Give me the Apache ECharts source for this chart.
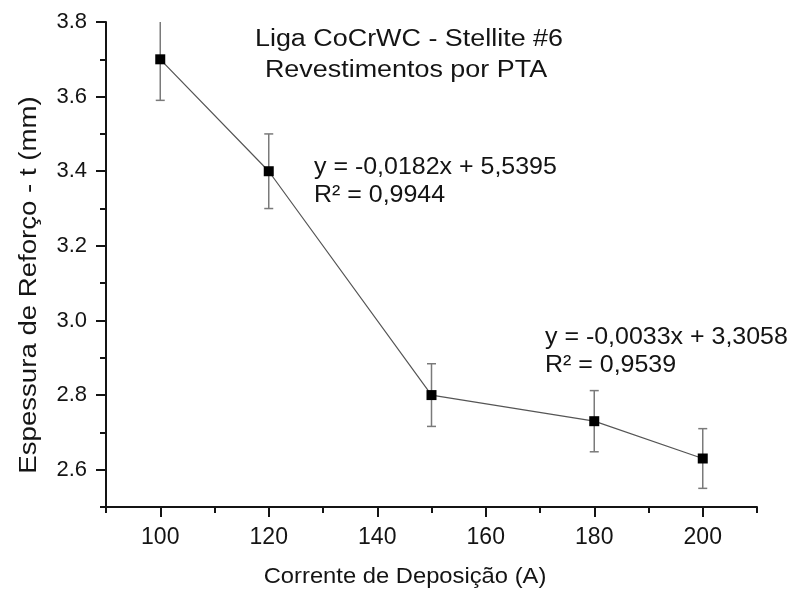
<!DOCTYPE html>
<html>
<head>
<meta charset="utf-8">
<script src="https://cdn.jsdelivr.net/npm/echarts@6/dist/echarts.min.js"></script>
<style>
html,body{margin:0;padding:0;background:#fff;}
#chart{width:792px;height:595px;}
</style>
</head>
<body>
<div id="chart"></div>
<script>
// Data
var current = [100, 120, 150, 180, 200];
var thickness = [3.70, 3.40, 2.80, 2.73, 2.63];
var errors = [0.11, 0.10, 0.084, 0.082, 0.08];
var xMajorTicks = [100, 120, 140, 160, 180, 200];
var xMinorTicks = [90, 110, 130, 150, 170, 190, 210];
var yMajorTicks = [2.6, 2.8, 3.0, 3.2, 3.4, 3.6, 3.8];
var yMinorTicks = [2.5, 2.7, 2.9, 3.1, 3.3, 3.5, 3.7];
var titleLines = ['Liga CoCrWC - Stellite #6', 'Revestimentos por PTA'];
var fit1 = ['y = -0,0182x + 5,5395', 'R² = 0,9944'];
var fit2 = ['y = -0,0033x + 3,3058', 'R² = 0,9539'];
var xTitle = 'Corrente de Deposição (A)';
var yTitle = 'Espessura de Reforço - t (mm)';

var FONT = '"Liberation Sans", Arial, sans-serif';
var INK = '#141414';
var chart = echarts.init(document.getElementById('chart'), null, {renderer: 'canvas'});

var pts = current.map(function (x, i) { return [x, thickness[i]]; });
var errData = current.map(function (x, i) { return [x, thickness[i] - errors[i], thickness[i] + errors[i]]; });

function xAxisBase(show) {
  return {
    type: 'value', min: 90, max: 210, position: 'bottom',
    axisLine: {show: show, lineStyle: {color: INK, width: 2}},
    splitLine: {show: false}
  };
}
function yAxisBase(show) {
  return {
    type: 'value', min: 2.5, max: 3.8, position: 'left',
    axisLine: {show: show, lineStyle: {color: INK, width: 2}},
    splitLine: {show: false}
  };
}

var xMain = xAxisBase(true);
xMain.axisTick = {show: true, inside: false, length: 10, lineStyle: {color: INK, width: 2}, customValues: xMajorTicks};
xMain.axisLabel = {show: true, margin: 19, fontSize: 23, color: INK, fontFamily: FONT, customValues: xMajorTicks};
var xMinor = xAxisBase(false);
xMinor.axisTick = {show: true, inside: false, length: 6, lineStyle: {color: INK, width: 2}, customValues: xMinorTicks};
xMinor.axisLabel = {show: false};

var yMain = yAxisBase(true);
yMain.axisTick = {show: true, inside: false, length: 10, lineStyle: {color: INK, width: 2}, customValues: yMajorTicks};
yMain.axisLabel = {show: true, margin: 19, fontSize: 22, color: INK, fontFamily: FONT, customValues: yMajorTicks,
  formatter: function (v) { return v.toFixed(1); }};
var yMinor = yAxisBase(false);
yMinor.axisTick = {show: true, inside: false, length: 6, lineStyle: {color: INK, width: 2}, customValues: yMinorTicks};
yMinor.axisLabel = {show: false};

function txt(x, y, s, size, sx, align, rot) {
  return {type: 'text', x: x, y: y, scaleX: sx, rotation: rot || 0,
    style: {text: s, font: size + 'px ' + FONT, fill: INK, align: align || 'left', verticalAlign: 'middle'}};
}

var option = {
  backgroundColor: '#fff',
  animation: false,
  grid: {left: 106, right: 35, top: 22, bottom: 88, containLabel: false},
  xAxis: [xMain, xMinor],
  yAxis: [yMain, yMinor],
  series: [
    {
      type: 'custom', xAxisIndex: 0, yAxisIndex: 0, clip: true, z: 1,
      data: errData,
      renderItem: function (params, api) {
        var x = api.value(0);
        var lo = api.coord([x, api.value(1)]);
        var hi = api.coord([x, api.value(2)]);
        var cw = 4.5;
        return {
          type: 'group',
          children: [
            {type: 'line', shape: {x1: lo[0], y1: lo[1], x2: hi[0], y2: hi[1]}, style: {stroke: '#7a7a7a', lineWidth: 1.5}},
            {type: 'line', shape: {x1: lo[0] - cw, y1: lo[1], x2: lo[0] + cw, y2: lo[1]}, style: {stroke: '#7a7a7a', lineWidth: 1.5}},
            {type: 'line', shape: {x1: hi[0] - cw, y1: hi[1], x2: hi[0] + cw, y2: hi[1]}, style: {stroke: '#7a7a7a', lineWidth: 1.5}}
          ]
        };
      }
    },
    {
      type: 'line', xAxisIndex: 0, yAxisIndex: 0, z: 2,
      data: pts,
      symbol: 'rect', symbolSize: 10,
      itemStyle: {color: '#000'},
      lineStyle: {color: '#555', width: 1.2}
    }
  ],
  graphic: [
    txt(409, 40, titleLines[0], 23, 1.17, 'center'),
    txt(406, 71, titleLines[1], 23, 1.17, 'center'),
    txt(314, 167, fit1[0], 24, 1.04),
    txt(314, 195, fit1[1], 24, 1.04),
    txt(545, 337, fit2[0], 24, 1.04),
    txt(545, 365, fit2[1], 24, 1.04),
    txt(405, 577, xTitle, 22, 1.08, 'center'),
    txt(30, 285, yTitle, 23, 1.2, 'center', Math.PI / 2)
  ]
};
chart.setOption(option);
</script>
</body>
</html>
